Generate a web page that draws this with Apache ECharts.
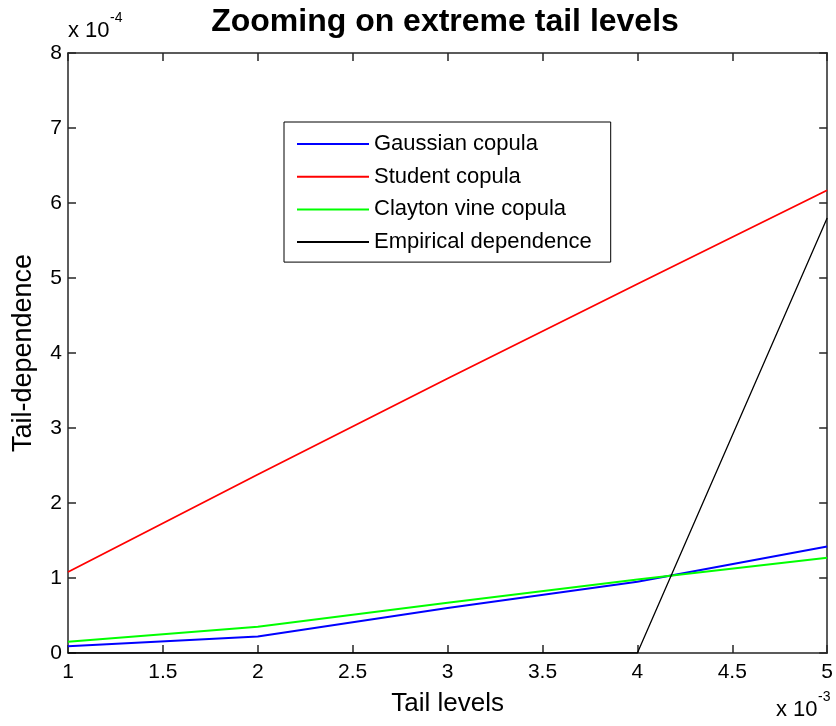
<!DOCTYPE html>
<html>
<head>
<meta charset="utf-8">
<script src="https://cdn.jsdelivr.net/npm/echarts@6/dist/echarts.min.js"></script>
<style>
  html, body { margin: 0; padding: 0; background: #fff; }
  #chart { width: 836px; height: 726px; }
</style>
</head>
<body>
<div id="chart"></div>
<script>
// Tail levels (x 10^-3)
const tailLevels = [1, 2, 3, 4, 5];
// Tail-dependence values (x 10^-4)
const gaussian = [0.09, 0.22, 0.60, 0.95, 1.42];
const student = [1.08, 2.38, 3.66, 4.92, 6.17];
const clayton = [0.15, 0.35, 0.67, 0.98, 1.27];
const empirical = [0, 0, 0, 0, 5.8];

const seriesNames = ['Gaussian copula', 'Student copula', 'Clayton vine copula', 'Empirical dependence'];
const seriesValues = [gaussian, student, clayton, empirical];
const seriesColors = ['#0000ff', '#ff0000', '#00ff00', '#000000'];
const seriesWidths = [1.8, 1.8, 1.8, 1.3];

const xTicks = { min: 1, max: 5, interval: 0.5 };
const yTicks = { min: 0, max: 8, interval: 1 };

const FONT = 'Liberation Sans, Arial, sans-serif';
const AXIS_COLOR = '#262626';

const chart = echarts.init(document.getElementById('chart'), null, { renderer: 'canvas' });

const pairs = (xs, ys) => xs.map((x, i) => [x, ys[i]]);

const baseAxisLine = { show: true, onZero: false, lineStyle: { color: AXIS_COLOR, width: 1.5 } };
const baseTick = { show: true, inside: true, length: 8, lineStyle: { color: AXIS_COLOR, width: 1.5 } };

// exponent captions: "x 10" plus a raised power
function exponentLabel(left, top, power) {
  return [
    {
      type: 'text', left: left, top: top,
      style: { text: 'x 10', fontFamily: FONT, fontSize: 22, lineHeight: 22, fill: '#000' }
    },
    {
      type: 'text', left: left + 42, top: top - 9,
      style: { text: power, fontFamily: FONT, fontSize: 14, lineHeight: 14, fill: '#000' }
    }
  ];
}

chart.setOption({
  animation: false,
  backgroundColor: '#ffffff',
  title: {
    text: 'Zooming on extreme tail levels',
    left: 445,
    textAlign: 'center',
    top: 6,
    padding: 0,
    textStyle: { fontFamily: FONT, fontWeight: 'bold', fontSize: 32, lineHeight: 32, color: '#000' }
  },
  legend: {
    orient: 'vertical',
    left: 284,
    top: 122,
    padding: [11, 19, 9, 13],
    itemGap: 10.7,
    itemWidth: 72,
    itemHeight: 2,
    icon: 'rect',
    borderColor: '#000',
    borderWidth: 1,
    backgroundColor: '#fff',
    data: seriesNames,
    textStyle: { fontFamily: FONT, fontSize: 22, color: '#000', lineHeight: 22 }
  },
  grid: { left: 68, top: 53, right: 4, bottom: 73, containLabel: false },
  xAxis: [
    {
      type: 'value',
      min: xTicks.min, max: xTicks.max, interval: xTicks.interval,
      name: 'Tail levels',
      nameLocation: 'middle',
      nameGap: 38,
      nameMoveOverlap: false,
      nameTextStyle: { fontFamily: FONT, fontSize: 26, lineHeight: 26, color: '#000', verticalAlign: 'top' },
      axisLine: baseAxisLine,
      axisTick: baseTick,
      splitLine: { show: false },
      axisLabel: {
        fontFamily: FONT, fontSize: 21, lineHeight: 21, color: '#000', margin: 9,
        formatter: v => String(v)
      }
    },
    {
      type: 'value', position: 'top',
      min: xTicks.min, max: xTicks.max, interval: xTicks.interval,
      axisLine: baseAxisLine, axisTick: baseTick,
      axisLabel: { show: false }, splitLine: { show: false }
    }
  ],
  yAxis: [
    {
      type: 'value',
      min: yTicks.min, max: yTicks.max, interval: yTicks.interval,
      name: 'Tail-dependence',
      nameLocation: 'middle',
      nameGap: 31,
      nameRotate: 90,
      nameMoveOverlap: false,
      nameTextStyle: { fontFamily: FONT, fontSize: 27, lineHeight: 27, color: '#000' },
      axisLine: baseAxisLine,
      axisTick: baseTick,
      splitLine: { show: false },
      axisLabel: { fontFamily: FONT, fontSize: 21, color: '#000', margin: 6 }
    },
    {
      type: 'value', position: 'right',
      min: yTicks.min, max: yTicks.max, interval: yTicks.interval,
      axisLine: baseAxisLine, axisTick: baseTick,
      axisLabel: { show: false }, splitLine: { show: false }
    }
  ],
  graphic: [].concat(
    exponentLabel(68, 20, '-4'),
    exponentLabel(776, 699, '-3')
  ),
  series: seriesNames.map((name, i) => ({
    name,
    type: 'line',
    xAxisIndex: 0,
    yAxisIndex: 0,
    data: pairs(tailLevels, seriesValues[i]),
    showSymbol: false,
    symbol: 'none',
    color: seriesColors[i],
    lineStyle: { color: seriesColors[i], width: seriesWidths[i] },
    z: 3
  }))
});
</script>
</body>
</html>
